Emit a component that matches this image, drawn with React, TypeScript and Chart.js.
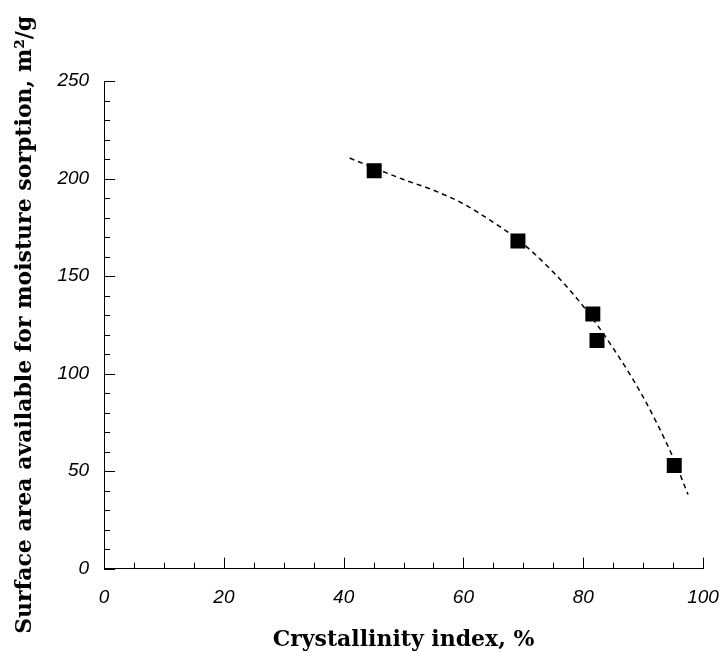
import { useEffect, useRef } from 'react';
import { Chart, registerables } from 'chart.js';

Chart.register(...registerables);

// Measured samples
const crystallinity = [45.1, 69.1, 81.6, 82.3, 95.2];
const surfaceArea = [204, 168, 130.5, 117, 52.8];

// Dashed trend curve
const fitX = [41, 45, 50, 55, 60, 65, 69, 75, 80, 85, 90, 95, 97.5];
const fitY = [210.5, 205.5, 199.5, 194, 187, 177.5, 169, 152, 134.5, 113, 88, 57, 38];

const xTickValues = [0, 20, 40, 60, 80, 100];
const yTickValues = [0, 50, 100, 150, 200, 250];

const xTitle = 'Crystallinity index, %';
const yTitle = 'Surface area available for moisture sorption, m\u00B2/g';

const inwardTicks = {
  id: 'inwardTicks',
  afterDraw(chart: any) {
    const { ctx, chartArea } = chart;
    const x = chart.scales.x;
    const y = chart.scales.y;
    ctx.save();
    ctx.strokeStyle = '#000';
    ctx.lineWidth = 1;
    for (let v = x.min; v <= x.max + 1e-9; v += 5) {
      const px = Math.round(x.getPixelForValue(v)) + 0.5;
      const len = Math.abs(v % 20) < 1e-9 ? 11 : 6;
      ctx.beginPath();
      ctx.moveTo(px, chartArea.bottom);
      ctx.lineTo(px, chartArea.bottom - len);
      ctx.stroke();
    }
    for (let v = y.min; v <= y.max + 1e-9; v += 10) {
      const py = Math.round(y.getPixelForValue(v)) + 0.5;
      const len = Math.abs(v % 50) < 1e-9 ? 11 : 6;
      ctx.beginPath();
      ctx.moveTo(chartArea.left, py);
      ctx.lineTo(chartArea.left + len, py);
      ctx.stroke();
    }
    ctx.restore();
  },
};

export default function App() {
  const canvasRef = useRef<HTMLCanvasElement | null>(null);

  useEffect(() => {
    if (!canvasRef.current) return;
    const chart = new Chart(canvasRef.current, {
      type: 'scatter',
      data: {
        datasets: [
          {
            type: 'line',
            label: 'fit',
            data: fitX.map((x, i) => ({ x, y: fitY[i] })),
            borderColor: '#000',
            borderWidth: 1.5,
            borderDash: [5, 4],
            pointRadius: 0,
            fill: false,
            cubicInterpolationMode: 'monotone',
          } as any,
          {
            label: 'data',
            data: crystallinity.map((x, i) => ({ x, y: surfaceArea[i] })),
            pointStyle: 'rect',
            pointRadius: 10.6,
            pointHoverRadius: 10.6,
            backgroundColor: '#000',
            borderColor: '#000',
            borderWidth: 0,
          },
        ],
      },
      options: {
        animation: false,
        responsive: false,
        maintainAspectRatio: false,
        layout: { padding: { left: 0, top: 81, right: 18, bottom: 0 } },
        plugins: {
          legend: { display: false },
          tooltip: { enabled: false },
        },
        scales: {
          x: {
            type: 'linear',
            min: 0,
            max: 100,
            afterBuildTicks: (axis: any) => {
              axis.ticks = xTickValues.map((v) => ({ value: v }));
            },
            grid: { display: false, drawTicks: false },
            border: { display: true, color: '#000', width: 1 },
            ticks: {
              color: '#000',
              padding: 0,
              maxRotation: 0,
              font: { family: '"Liberation Sans", Arial, sans-serif', size: 19, style: 'italic', lineHeight: '58px' },
            },
            title: {
              display: true,
              text: xTitle,
              color: '#000',
              padding: { top: 0, bottom: -1 },
              font: { family: '"DejaVu Serif", serif', size: 22, weight: 'bold' },
            },
          },
          y: {
            type: 'linear',
            min: 0,
            max: 250,
            afterBuildTicks: (axis: any) => {
              axis.ticks = yTickValues.map((v) => ({ value: v }));
            },
            grid: { display: false, drawTicks: false },
            border: { display: true, color: '#000', width: 1 },
            ticks: {
              color: '#000',
              padding: 15,
              font: { family: '"Liberation Sans", Arial, sans-serif', size: 19, style: 'italic' },
            },
            title: {
              display: true,
              text: yTitle,
              color: '#000',
              padding: { top: 12, bottom: 4 },
              font: { family: '"DejaVu Serif", serif', size: 22, weight: 'bold' },
            },
          },
        },
      },
      plugins: [inwardTicks],
    });
    return () => chart.destroy();
  }, []);

  return (
    <div style={{ position: 'absolute', left: 0, top: 0, width: 721, height: 652, background: '#fff' }}>
      <canvas ref={canvasRef} width={721} height={652} style={{ display: 'block', width: 721, height: 652 }} />
    </div>
  );
}
